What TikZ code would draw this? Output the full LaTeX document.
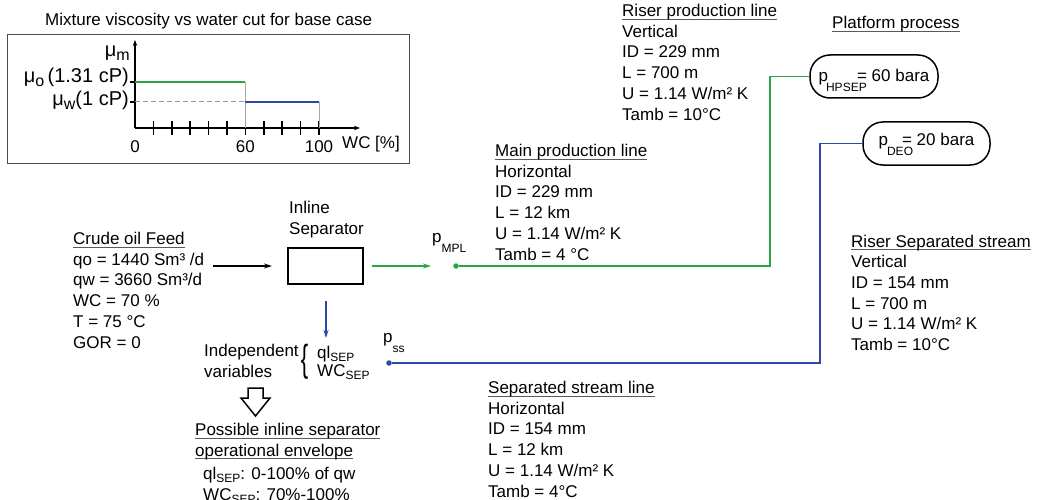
\documentclass[tikz,border=0pt]{standalone}
\usepackage{fontspec}
\setmainfont{Liberation Sans}
\usepackage{graphicx}
\usetikzlibrary{arrows.meta}
\definecolor{gline}{RGB}{40,165,70}
\definecolor{bline}{RGB}{45,70,170}
\definecolor{ulc}{RGB}{90,90,90}
\newcommand\ulx[1]{\setbox0\hbox{#1}\rlap{\color{ulc}\rule[-3pt]{\wd0}{0.9pt}}\box0}
\newcommand\sbx[1]{\raisebox{-3pt}{\fontsize{12}{12}\selectfont #1}}
\newcommand\msub[1]{\raisebox{-4pt}{\fontsize{16}{16}\selectfont #1}}
\newcommand\psub[1]{\raisebox{-10pt}{\fontsize{12}{12}\selectfont #1}}
\begin{document}
\begin{tikzpicture}[x=1pt,y=-1pt,
  txt/.style={inner sep=0pt, align=left, font=\fontsize{17}{20.7}\selectfont, anchor=north west},
  lbl/.style={inner sep=0pt, font=\fontsize{17}{20.7}\selectfont},
  mlbl/.style={inner sep=0pt, font=\fontsize{20}{22}\selectfont},
  axis/.style={line width=1.6pt, black},
  tip/.style={-{Stealth[length=8pt,width=5pt]}},
  gl/.style={line width=1.8pt, gline},
  bl/.style={line width=1.8pt, bline},
  pnode/.style={draw, line width=1.5pt, rounded corners=20pt, inner sep=0pt, font=\fontsize{17}{20.7}\selectfont},
  dot/.style={circle, inner sep=0pt, minimum size=5.5pt}
]
\useasboundingbox (0,0) rectangle (1038,500);

% ---------- chart ----------
\node[txt] (title) at (45,13) {Mixture viscosity vs water cut for base case};
\draw[line width=1pt, black!70] (7,35) rectangle (409,163);
\coordinate (o) at (135,128);
\coordinate (ytop) at (135,40);
\coordinate (xend) at (360,128);
\draw[axis, -{Stealth[length=6pt,width=4.5pt]}] (o) -- (ytop);
\draw[axis, -{Stealth[length=6pt,width=4.5pt]}] (o) -- (xend);
\foreach \i in {1,...,10} \draw[axis] ({135+18.4*\i},121) -- ({135+18.4*\i},135);
\draw[axis] (130,82) -- (135,82);
\draw[axis] (130,102) -- (135,102);
\draw[line width=1.8pt, gline] (135,82) -- (245.4,82);
\draw[line width=1pt, black!35] (245.4,82) -- (245.4,128);
\draw[line width=1pt, black!40, dashed, dash pattern=on 5pt off 3pt] (135,102) -- (245.4,102);
\draw[line width=1.8pt, bline] (245.4,102) -- (319,102);
\draw[line width=1pt, black!35] (319,102) -- (319,128);
\node[mlbl, anchor=base east] (mum) at (130,57) {μ\msub{m}};
\node[mlbl, anchor=base east] (muo) at (129,83) {μ\msub{o}\,(1.31 cP)};
\node[mlbl, anchor=base east] (muw) at (129,106) {μ\msub{w}(1 cP)};
\node[lbl, anchor=base] (x0) at (135,153) {0};
\node[lbl, anchor=base] (x60) at (245.4,153) {60};
\node[lbl, anchor=base] (x100) at (319,153) {100};
\node[lbl, anchor=base west] (wc) at (342,149) {WC [\%]};

% ---------- feed and separator ----------
\node[txt] (feed) at (73,232) {\ulx{Crude oil Feed}\\qo = 1440 Sm³ /d\\qw = 3660 Sm³/d\\WC = 70 \%\\T = 75 °C\\GOR = 0};
\coordinate (fa) at (213,266);
\coordinate (fb) at (272,266);
\draw[line width=1.4pt, tip] (fa) -- (fb);
\node[draw, line width=1.6pt, minimum width=75pt, minimum height=36pt, inner sep=0pt] (sep) at (325.5,266) {};
\node[txt] (septxt) at (289,201) {Inline\\Separator};

% green main line
\coordinate (g1) at (372,266);
\coordinate (g2) at (431,266);
\draw[gl, line width=1.6pt, -{Stealth[length=8pt,width=5pt]}] (g1) -- (g2);
\node[lbl, anchor=base west] (pmpl) at (432,242) {p\psub{MPL}};
\node[dot, fill=gline] (dotm) at (456,266) {};
\node[pnode, minimum width=128pt, minimum height=43pt, text height=13pt, text depth=3pt] (hp) at (874,76.5) {p\rlap{\hspace{-2pt}\psub{HPSEP}}\hspace{29pt}= 60 bara};
\coordinate (cg) at (770,266);
\draw[gl] (dotm) -- (cg) |- (hp.west);

% blue separated stream
\coordinate (b1) at (326,301);
\coordinate (b2) at (326,338);
\draw[bl, line width=1.4pt, -{Stealth[length=8pt,width=5pt]}] (b1) -- (b2);
\node[lbl, anchor=base west] (pss) at (383,342) {p\psub{ss}};
\node[dot, fill=bline] (dots) at (389,363) {};
\node[pnode, minimum width=127pt, minimum height=43pt, text height=10pt, text depth=6pt] (deo) at (926.5,143.5) {p\rlap{\hspace{-1pt}\psub{DEO}}\hspace{14pt}= 20 bara};
\coordinate (cb) at (820,363);
\draw[bl] (dots) -- (cb) |- (deo.west);

% ---------- text blocks ----------
\node[txt] (mpl) at (495,144) {\ulx{Main production line}\\Horizontal\\ID = 229 mm\\L = 12 km\\U = 1.14 W/m² K\\Tamb = 4 °C};
\node[txt] (rpl) at (622,4) {\ulx{Riser production line}\\Vertical\\ID = 229 mm\\L = 700 m\\U = 1.14 W/m² K\\Tamb = 10°C};
\node[txt] (plat) at (832,16) {\ulx{Platform process}};
\node[txt] (rss) at (851,234.5) {\ulx{Riser Separated stream}\\Vertical\\ID = 154 mm\\L = 700 m\\U = 1.14 W/m² K\\Tamb = 10°C};
\node[txt] (ssl) at (488,381) {\ulx{Separated stream line}\\Horizontal\\ID = 154 mm\\L = 12 km\\U = 1.14 W/m² K\\Tamb = 4°C};

% ---------- independent variables ----------
\node[txt] (indep) at (204,344) {Independent\\variables};
\node[inner sep=0pt] (brace) at (304.5,362) {\scalebox{0.85}[1.45]{\fontsize{26}{26}\selectfont\{}};
\node[txt, font=\fontsize{17}{18}\selectfont] (vars) at (317,346) {ql\sbx{SEP}\\WC\sbx{SEP}};
\draw[line width=1.5pt, fill=white] (248,388) -- (263,388) -- (263,398) -- (270,398) -- (255.5,416) -- (241,398) -- (248,398) -- cycle;
\node[txt] (env) at (195,423) {\ulx{Possible inline separator}\\\ulx{operational envelope}};
\node[txt] (envv) at (203,467) {ql\sbx{SEP}: 0-100\% of qw\\WC\sbx{SEP}: 70\%-100\%};
\end{tikzpicture}
\end{document}
